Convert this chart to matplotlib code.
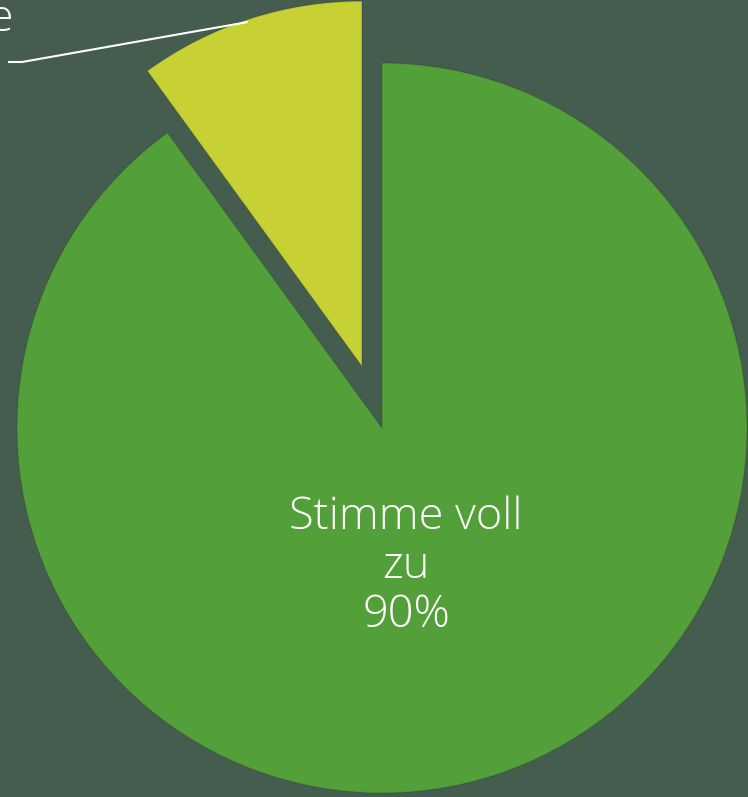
import matplotlib
matplotlib.use("Agg")
import matplotlib.pyplot as plt

categories = ["Stimme voll\nzu", "Stimme teilweise"]
values = [90, 10]
colors = ["#53A03A", "#C7D134"]
bg = "#455D4F"

W, H = 748, 797
cx, cy, R = 382, 428, 365  # pixel geometry of pie

fig = plt.figure(figsize=(W / 100, H / 100), dpi=100)
fig.patch.set_facecolor(bg)
ax = fig.add_axes([0, 0, 1, 1])
ax.set_facecolor(bg)

wedges, _ = ax.pie(values, colors=colors, startangle=90, counterclock=False,
                   explode=[0, 0.178], radius=1.0,
                   wedgeprops=dict(linewidth=1.0, edgecolor=(0, 0, 0, 0.12)))

ax.set_xlim(-cx / R, (W - cx) / R)
ax.set_ylim(-(H - cy) / R, cy / R)
ax.set_aspect("equal")
ax.axis("off")

def px(x, y):
    return (x - cx) / R, (cy - y) / R

font = dict(family=["Open Sans", "DejaVu Sans"], weight="light", color="white")

# big slice label
tx, ty = px(406, 567)
ax.text(tx, ty, f"{categories[0]}\n{values[0]}%", ha="center", va="center",
        fontsize=32.5, linespacing=1.13, **font)

# small slice label (mostly off-canvas, as in the reference)
lx, ly = px(14, 20)
ax.text(lx, ly, categories[1], ha="right", va="center", fontsize=32.5, **font)

p1 = px(248, 22)
p2 = px(22, 62)
p3 = px(8, 62)
ax.plot([p1[0], p2[0], p3[0]], [p1[1], p2[1], p3[1]], color="white", lw=1.5,
        solid_capstyle="butt")

fig.savefig("out.png", dpi=100, facecolor=bg)
